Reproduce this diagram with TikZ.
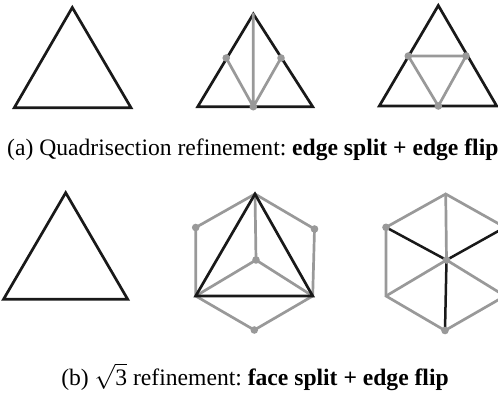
\documentclass[tikz,border=0pt]{standalone}
\usepackage{fontspec}
\setmainfont{Liberation Serif}
\frenchspacing
\begin{document}
\begin{tikzpicture}[x=1pt,y=-1pt,
  blk/.style={draw=black!90,line width=2.7pt,line join=miter},
  gry/.style={draw=black!40,line width=2.7pt,line cap=round},
  dot/.style={fill=black!40},
  captext/.style={font=\fontsize{23.6}{27}\selectfont,inner sep=0pt}]
\useasboundingbox (0,0) rectangle (498,392);
% Triangle 1
\coordinate (a1) at (72.3,7.5);
\coordinate (a2) at (14.3,107.7);
\coordinate (a3) at (131,107.7);
\draw[blk] (a1) -- (a2) -- (a3) -- cycle;
% Triangle 2
\coordinate (b1) at (253.3,14);
\coordinate (b2) at (197.7,106.7);
\coordinate (b3) at (312.7,106.7);
\coordinate (bl) at (226.2,58);
\coordinate (br) at (281,58);
\coordinate (bm) at (253.3,106.7);
\draw[blk] (b1) -- (b2) -- (b3) -- cycle;
\draw[gry] (b1) -- (bm) (bl) -- (bm) -- (br);
\foreach \p in {bl,br,bm} \fill[dot] (\p) circle (3.8pt);
% Triangle 3
\coordinate (c1) at (438.3,5.5);
\coordinate (c2) at (379.3,106);
\coordinate (c3) at (496.7,106);
\coordinate (cl) at (408.3,56);
\coordinate (cr) at (466,56);
\coordinate (cm) at (438.3,106);
\draw[blk] (c1) -- (c2) -- (c3) -- cycle;
\draw[gry] (cl) -- (cr) -- (cm) -- cycle;
\foreach \p in {cl,cr,cm} \fill[dot] (\p) circle (3.8pt);
\node[captext,anchor=base west] (capa) at (7,155) {(a) Quadrisection refinement: \textbf{edge split + edge flip}};
% Triangle 4
\coordinate (d1) at (65.7,192.7);
\coordinate (d2) at (3.5,299.3);
\coordinate (d3) at (127.7,299.3);
\draw[blk] (d1) -- (d2) -- (d3) -- cycle;
% Hexagon 5
\coordinate (e1) at (255,194);
\coordinate (e2) at (195.7,227.5);
\coordinate (e3) at (195.7,296);
\coordinate (e4) at (254.3,330);
\coordinate (e5) at (312.7,296);
\coordinate (e6) at (314.5,229);
\coordinate (ec) at (256,260);
\draw[gry] (e1) -- (e2) -- (e3) -- (e4) -- (e5) -- (e6) -- cycle;
\draw[gry] (ec) -- (e1) (ec) -- (e3) (ec) -- (e5);
\draw[blk] (e1) -- (e3) -- (e5) -- cycle;
\foreach \p in {e2,e4,e6,ec} \fill[dot] (\p) circle (3.8pt);
% Hexagon 6
\coordinate (f1) at (445.7,194);
\coordinate (f2) at (386,227.3);
\coordinate (f3) at (386,296);
\coordinate (f4) at (445,330.5);
\coordinate (f5) at (505,296);
\coordinate (f6) at (505,227.3);
\coordinate (fc) at (446.5,260);
\draw[gry] (f1) -- (f2) -- (f3) -- (f4) -- (f5) -- (f6) -- cycle;
\draw[gry] (fc) -- (f1) (fc) -- (f3) (fc) -- (f5);
\draw[blk,line width=2.5pt] (fc) -- (f2) (fc) -- (f4) (fc) -- (f6);
\foreach \p in {f2,f4,f6,fc} \fill[dot] (\p) circle (3.8pt);
\node[captext,anchor=base] (capb) at (255,385) {(b) $\sqrt{\mbox{3}}$ refinement: \textbf{face split + edge flip}};
\end{tikzpicture}
\end{document}
